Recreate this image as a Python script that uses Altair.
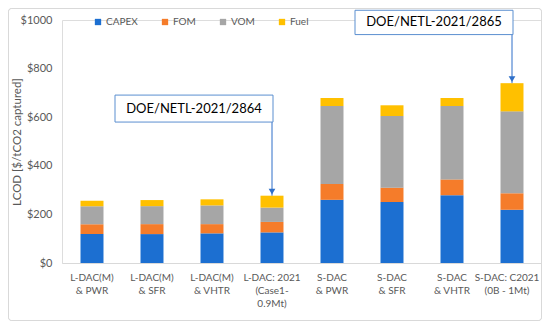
import altair as alt
import pandas as pd

categories = [
    "L-DAC(M)\n& PWR", "L-DAC(M)\n& SFR", "L-DAC(M)\n& VHTR", "L-DAC: 2021\n(Case1-\n0.9Mt)",
    "S-DAC\n& PWR", "S-DAC\n& SFR", "S-DAC\n& VHTR", "S-DAC: C2021\n(0B - 1Mt)",
]
components = ["CAPEX", "FOM", "VOM", "Fuel"]
capex = [119, 119, 122, 126, 260, 251, 279, 219]
fom = [40, 41, 38, 43, 65, 59, 65, 68]
vom = [75, 74, 77, 59, 321, 295, 302, 337]
fuel = [22, 25, 25, 49, 33, 44, 33, 116]
colors = ["#1C6FD1", "#F57C2A", "#A6A6A6", "#FFC000"]

ann_labels = ["DOE/NETL-2021/2864", "DOE/NETL-2021/2865"]
ann_cats = [categories[3], categories[7]]
ann_box_lo = [580, 940]
ann_box_hi = [691, 1040]
ann_tip = [sum(v[3] for v in (capex, fom, vom, fuel)), sum(v[7] for v in (capex, fom, vom, fuel))]

FONT = "Lato"
GREY = "#595959"

rows = []
for i, c in enumerate(categories):
    for j, (comp, vals) in enumerate(zip(components, (capex, fom, vom, fuel))):
        rows.append({"cat": c, "comp": comp, "val": vals[i], "ord": j})
df = pd.DataFrame(rows)

ann = pd.DataFrame({
    "label": ann_labels, "cat": ann_cats,
    "lo": ann_box_lo, "hi": ann_box_hi,
    "mid": [(a + b) / 2 for a, b in zip(ann_box_lo, ann_box_hi)],
    "tip": ann_tip,
})

xscale = alt.Scale(domain=categories, paddingInner=0.617, paddingOuter=0.3085)
yscale = alt.Scale(domain=[0, 1000])

bars = alt.Chart(df).mark_bar().encode(
    x=alt.X("cat:N", scale=xscale, sort=categories,
            axis=alt.Axis(title=None, labelAngle=0, labelExpr="split(datum.label, '\\n')",
                          labelFont=FONT, labelFontSize=10, labelColor=GREY,
                          labelLineHeight=13, labelPadding=9, ticks=False,
                          labelOffset={"condition": {"test": "indexof(datum.label, 'C2021') >= 0",
                                                     "value": -5}, "value": 0},
                          domainColor="#D9D9D9", domainWidth=1)),
    y=alt.Y("val:Q", stack="zero", scale=yscale,
            axis=alt.Axis(title="LCOD [$/tCO2 captured]", values=[0, 200, 400, 600, 800, 1000],
                          labelExpr="'$' + datum.value", labelFont=FONT, labelFontSize=11,
                          labelColor=GREY, labelPadding=10, ticks=False, domain=False, grid=False,
                          titleFont=FONT, titleFontSize=11.5, titleColor=GREY, titleFontWeight="normal",
                          titleX=-45, titleY=121.5, titleAngle=-90, titleAlign="center",
                          titleBaseline="middle")),
    color=alt.Color("comp:N", scale=alt.Scale(domain=components, range=colors),
                    legend=alt.Legend(title=None, orient="none", direction="horizontal",
                                      legendX=31, legendY=-3, symbolType="square",
                                      symbolSize=40, symbolStrokeWidth=0, labelFont=FONT,
                                      labelFontSize=10, labelColor=GREY, labelOffset=3,
                                      columnPadding=22, padding=0)),
    order=alt.Order("ord:Q"),
)

box = alt.Chart(ann).mark_bar(width=158, xOffset=-78, fill="white", stroke="#5B8FD0",
                              strokeWidth=1).encode(
    x=alt.X("cat:N", scale=xscale, sort=categories),
    y=alt.Y("lo:Q", scale=yscale),
    y2="hi:Q",
)
txt = alt.Chart(ann).mark_text(dx=-78, font=FONT, fontSize=13, color="black",
                               baseline="middle").encode(
    x=alt.X("cat:N", scale=xscale, sort=categories),
    y=alt.Y("mid:Q", scale=yscale),
    text="label:N",
)
line = alt.Chart(ann).mark_rule(color="#2E6FC9", strokeWidth=1).encode(
    x=alt.X("cat:N", scale=xscale, sort=categories),
    y=alt.Y("lo:Q", scale=yscale),
    y2="tip:Q",
)
head = alt.Chart(ann).mark_point(shape="triangle-down", filled=True, size=45,
                                 color="#2E6FC9", opacity=1, yOffset=-4).encode(
    x=alt.X("cat:N", scale=xscale, sort=categories),
    y=alt.Y("tip:Q", scale=yscale),
)
border = alt.Chart(ann).mark_rect(fill=None, stroke="#D9D9D9", strokeWidth=1,
                                  cornerRadius=3).encode(
    x=alt.value(-53.5), x2=alt.value(479.5), y=alt.value(-11.5), y2=alt.value(300.5),
)

chart = alt.layer(border, bars, line, head, box, txt).properties(
    width=480, height=243,
    autosize=alt.AutoSizeParams(type="none"),
    padding={"left": 54, "top": 12, "right": 0, "bottom": 58},
).configure_view(stroke=None).configure(background="white")

chart.save("out.html", embed_options={"renderer": "svg", "actions": False})
